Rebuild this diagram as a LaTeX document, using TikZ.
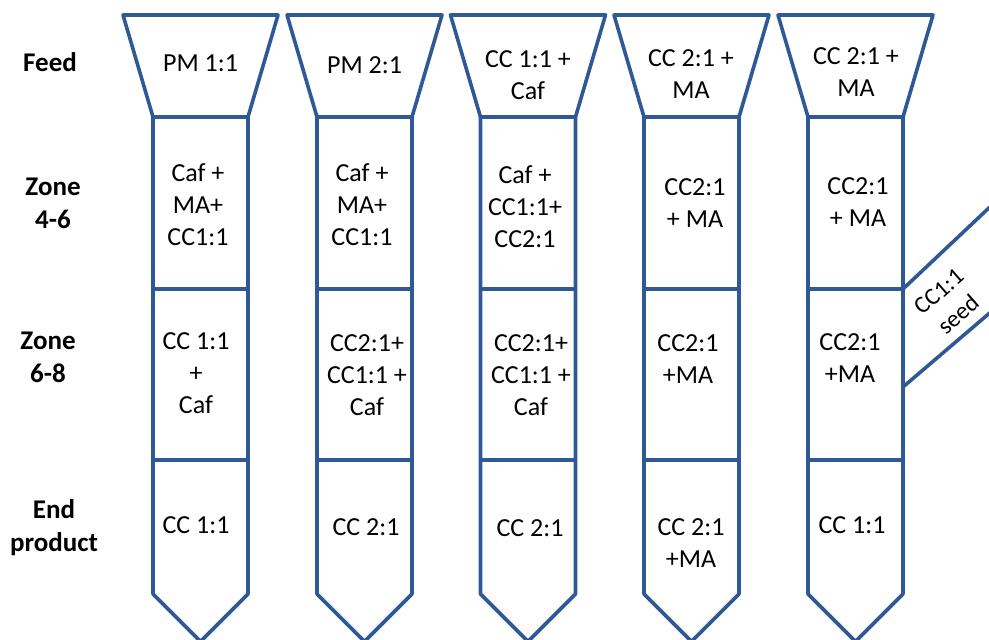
\documentclass[tikz,border=0pt]{standalone}
\usepackage{fontspec}
\setmainfont{Carlito}
\usepackage{tikz}
\usetikzlibrary{positioning}
\definecolor{wallblue}{RGB}{46,89,148}

\begin{document}
\begin{tikzpicture}[
    x=1pt, y=-1pt, % pixel-like units, y grows downwards
    wall/.style={draw=wallblue, line width=3.6pt, line join=round},
    cell/.style={align=center, inner sep=0pt, font=\fontsize{26}{32}\selectfont},
    rowlabel/.style={align=center, inner sep=0pt, font=\fontsize{27}{33}\selectfont\bfseries}
]
\useasboundingbox (0,0) rectangle (989,640);

% --- Barrel outlines (hopper, barrel, tip) ---
\foreach \cx in {200.5, 364.5, 528, 691.5, 855.5} {
    \draw[wall] (\cx-77.5,15) -- (\cx+77.5,15) -- (\cx+47.5,117) -- (\cx-47.5,117) -- cycle;
    \draw[wall] (\cx-47.5,117) -- (\cx-47.5,594) -- (\cx,641.5) -- (\cx+47.5,594) -- (\cx+47.5,117);
    \draw[wall] (\cx-47.5,289) -- (\cx+47.5,289);
    \draw[wall] (\cx-47.5,460) -- (\cx+47.5,460);
}

% --- Seed side feeder ---
\coordinate (seedup) at (903,289);
\coordinate (seedlow) at (903,387);
\draw[wall] (seedup) -- (992,205);
\draw[wall] (seedlow) -- (992,311);
\node[cell, rotate=41, font=\fontsize{24}{30}\selectfont] (seed) at (949,303) {CC1:1\\seed};

% --- Row labels ---
\node[rowlabel] (lblfeed) at (50,62) {Feed};
\node[rowlabel] (lblzoneA) at (53,203) {Zone\\4-6};
\node[rowlabel] (lblzoneB) at (48,357) {Zone\\6-8};
\node[rowlabel] (lblend) at (54,528) {End\\product};

% Feed
\foreach \c/\x/\y/\t in {1/200.5/63/{PM 1:1}, 2/364.5/65/{PM 2:1}, 3/528/75/{CC 1:1 +\\Caf}, 4/691/74/{CC 2:1 +\\MA}, 5/856/72/{CC 2:1 +\\MA}}
    \node[cell] (feed\c) at (\x,\y) {\t};

% Zone 4-6
\foreach \c/\x/\y/\t in {1/198/205/{Caf +\\MA+\\CC1:1}, 2/362/205/{Caf +\\MA+\\CC1:1}, 3/525/207/{Caf +\\CC1:1+\\CC2:1}, 4/695/203/{CC2:1\\+ MA}, 5/858/202/{CC2:1\\+ MA}}
    \node[cell] (zoneA\c) at (\x,\y) {\t};

% Zone 6-8
\foreach \c/\x/\y/\t in {1/196/373/{CC 1:1\\+\\Caf}, 2/367/375/{CC2:1+\\CC1:1 +\\Caf}, 3/531/375/{CC2:1+\\CC1:1 +\\Caf}, 4/688/359/{CC2:1\\+MA}, 5/850/358/{CC2:1\\+MA}}
    \node[cell] (zoneB\c) at (\x,\y) {\t};

% End product
\foreach \c/\x/\y/\t in {1/196/525/{CC 1:1}, 2/366/527/{CC 2:1}, 3/530/528/{CC 2:1}, 4/691/543/{CC 2:1\\+MA}, 5/852/525/{CC 1:1}}
    \node[cell] (endp\c) at (\x,\y) {\t};

\end{tikzpicture}
\end{document}
